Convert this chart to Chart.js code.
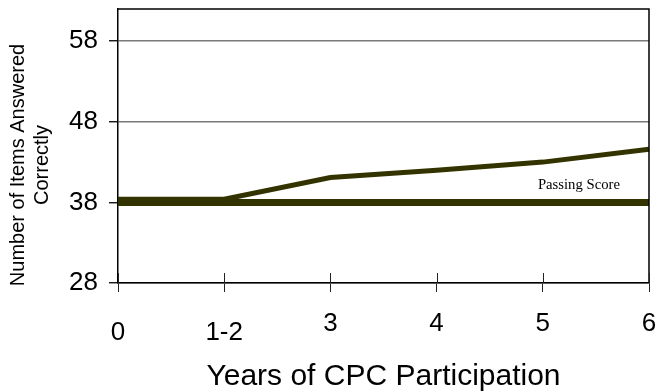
<!DOCTYPE html>
<html>
<head>
<meta charset="utf-8">
<script src="https://cdn.jsdelivr.net/npm/chart.js@4/dist/chart.umd.min.js"></script>
<style>
  html, body { margin: 0; padding: 0; background: #fff; }
  #c { display: block; }
</style>
</head>
<body>
<canvas id="c" width="657" height="392"></canvas>
<script>
// Years of participation and mean number of items answered correctly
const years = ['0', '1-2', '3', '4', '5', '6'];
const itemsCorrect = [38.4, 38.4, 41.1, 42.0, 43.0, 44.6];
const passingScore = [38, 38, 38, 38, 38, 38];
const yTicks = [28, 38, 48, 58];
const yMin = 28;
const yMax = 62;
const xTitle = 'Years of CPC Participation';
const yTitle = ['Number of Items Answered', 'Correctly'];
const passingLabel = 'Passing Score';

const SANS = '"Liberation Sans", Arial, Helvetica, sans-serif';
const SERIF = '"Liberation Serif", "Times New Roman", serif';
const LINE = '#333300';

// Top/right frame of the plot, inner halves of the x tick marks,
// the rotated two-line y title and the "Passing Score" note.
const extras = {
  id: 'extras',
  afterDraw(chart) {
    const { ctx, chartArea: a, scales: { x, y } } = chart;
    ctx.save();

    ctx.strokeStyle = '#000';
    ctx.lineWidth = 1.5;
    ctx.beginPath();
    ctx.moveTo(a.left, a.top);
    ctx.lineTo(a.right, a.top);
    ctx.lineTo(a.right, a.bottom);
    ctx.stroke();

    ctx.lineWidth = 1;
    ctx.strokeStyle = '#222';
    x.ticks.forEach((t, i) => {
      const px = Math.round(x.getPixelForTick(i)) + 0.5;
      ctx.beginPath();
      ctx.moveTo(px, a.bottom - 10);
      ctx.lineTo(px, a.bottom);
      ctx.stroke();
    });

    // y title
    ctx.fillStyle = '#000';
    ctx.font = '20px ' + SANS;
    ctx.textAlign = 'center';
    ctx.textBaseline = 'alphabetic';
    ctx.save();
    ctx.translate(0, 165);
    ctx.rotate(-Math.PI / 2);
    ctx.fillText(yTitle[0], 0, 23.5);
    ctx.fillText(yTitle[1], 0, 48);
    ctx.restore();

    // passing score note, placed in data coordinates (between "5" and "6")
    ctx.font = '14.7px ' + SERIF;
    ctx.textAlign = 'center';
    ctx.textBaseline = 'alphabetic';
    ctx.fillText(passingLabel, x.getPixelForValue(4.34), y.getPixelForValue(39.7));

    ctx.restore();
  }
};

new Chart(document.getElementById('c'), {
  type: 'line',
  data: {
    labels: years,
    datasets: [
      {
        label: 'Items answered correctly',
        data: itemsCorrect,
        borderColor: LINE,
        borderWidth: 5,
        pointRadius: 0,
        tension: 0,
        fill: false
      },
      {
        label: passingLabel,
        data: passingScore,
        borderColor: LINE,
        borderWidth: 7,
        pointRadius: 0,
        tension: 0,
        fill: false
      }
    ]
  },
  options: {
    responsive: false,
    animation: false,
    devicePixelRatio: 1,
    layout: { padding: { left: 0, top: 9, right: 8, bottom: 0 } },
    plugins: {
      legend: { display: false },
      tooltip: { enabled: false }
    },
    scales: {
      x: {
        type: 'category',
        offset: false,
        grid: {
          display: true,
          drawOnChartArea: false,
          drawTicks: true,
          tickLength: 9,
          tickColor: '#222',
          lineWidth: 1
        },
        border: { display: true, color: '#000', width: 1.5 },
        ticks: {
          color: '#000',
          padding: 16,
          maxRotation: 0,
          autoSkip: false,
          font: (ctx) => ({
            family: SANS,
            size: 26,
            lineHeight: ctx.index < 2 ? '50px' : '31.2px'
          })
        },
        title: {
          display: true,
          text: xTitle,
          color: '#000',
          font: { family: SANS, size: 30, lineHeight: 1 },
          padding: { top: 0, bottom: 0 }
        },
        afterFit(s) {
          s.height = 109;
          s.paddingLeft = 0;
          s.paddingRight = 0;
        }
      },
      y: {
        type: 'linear',
        min: yMin,
        max: yMax,
        afterBuildTicks(s) {
          s.ticks = yTicks.map(v => ({ value: v }));
        },
        grid: {
          color: '#7a7a7a',
          lineWidth: 1.5,
          drawTicks: true,
          tickLength: 9,
          tickColor: '#000',
          tickWidth: 1.3
        },
        border: { display: true, color: '#000', width: 1.5 },
        ticks: {
          color: '#000',
          padding: 11,
          font: { family: SANS, size: 26, lineHeight: 1.2 }
        },
        afterFit(s) {
          s.width = 118;
          s.paddingTop = 0;
          s.paddingBottom = 0;
        }
      }
    }
  },
  plugins: [extras]
});
</script>
</body>
</html>
